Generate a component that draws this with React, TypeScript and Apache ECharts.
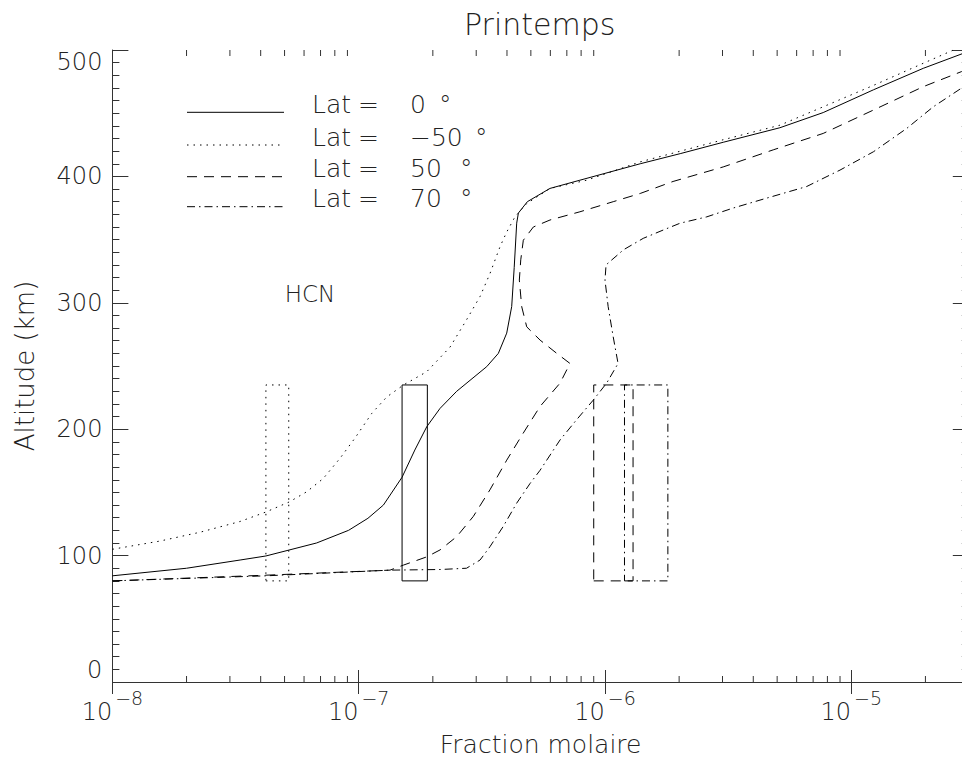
import React, { useEffect, useRef } from "react";
import * as echarts from "echarts";

// Lat = 0 ° (solid)
const lat0X = [1.0e-8, 2.0e-8, 3.3e-8, 4.2e-8, 6.75e-8, 9.1e-8, 1.09e-7, 1.26e-7, 1.5e-7, 1.69e-7, 1.89e-7, 2.14e-7, 2.5e-7, 3.31e-7, 3.69e-7, 3.99e-7, 4.18e-7, 4.28e-7, 4.38e-7, 4.45e-7, 4.84e-7, 5.98e-7, 7.91e-7, 1.39e-6, 2.02e-6, 3.02e-6, 5.13e-6, 7.69e-6, 1.23e-5, 1.96e-5, 3.0e-5];
const lat0Alt = [84, 90, 96.5, 99.7, 110, 120, 129.5, 140, 162, 183.5, 202, 216.5, 230, 249.5, 260, 276, 297, 328, 363, 371, 380, 390.5, 397, 410, 418, 427, 438.5, 450.5, 468.5, 485.5, 499];

// Lat = -50 ° (dotted)
const latM50X = [1e-8, 1.56e-8, 2.27e-8, 3.3e-8, 4.2e-8, 5.23e-8, 6.15e-8, 7.18e-8, 8.4e-8, 9.66e-8, 1.13e-7, 1.3e-7, 1.52e-7, 1.89e-7, 2.35e-7, 2.74e-7, 3.11e-7, 3.41e-7, 3.75e-7, 3.99e-7, 4.31e-7, 4.81e-7, 5.98e-7, 8.43e-7, 1.39e-6, 3.02e-6, 5.13e-6, 1.23e-5, 1.96e-5, 2.6e-5];
const latM50Alt = [105, 111.5, 118.5, 127, 134.5, 142.5, 150.5, 161, 177, 193, 212.5, 225.5, 235, 245.5, 265, 286.5, 305, 323, 344.5, 356, 368, 378.5, 390.5, 397, 411.5, 429, 440.5, 472, 489.5, 500];

// Lat = 50 ° (dashed)
const lat50X = [1e-8, 4.2e-8, 1.34e-7, 1.52e-7, 1.89e-7, 2.14e-7, 2.5e-7, 2.92e-7, 3.41e-7, 3.99e-7, 4.66e-7, 5.45e-7, 6.57e-7, 7.21e-7, 6.37e-7, 5.45e-7, 4.81e-7, 4.59e-7, 4.49e-7, 4.55e-7, 4.66e-7, 5.12e-7, 5.98e-7, 7.91e-7, 1.08e-6, 1.39e-6, 1.89e-6, 3.02e-6, 4.82e-6, 7.69e-6, 1.23e-5, 1.96e-5, 2.81e-5];
const lat50Alt = [80, 84.5, 88.5, 92.5, 99, 104.5, 115, 131, 152, 175.5, 197, 218, 236.5, 252, 260, 270.5, 281, 297, 318, 334, 349.5, 360, 365.5, 372, 380, 386.5, 396, 407.5, 421, 434, 452.5, 471, 483];

// Lat = 70 ° (dash-dot)
const lat70X = [1e-8, 4.2e-8, 1.34e-7, 2.14e-7, 2.74e-7, 3.11e-7, 3.41e-7, 3.86e-7, 4.38e-7, 4.96e-7, 5.45e-7, 6.57e-7, 7.67e-7, 8.96e-7, 1.016e-6, 1.13e-6, 1.08e-6, 1.03e-6, 1.0e-6, 1.01e-6, 1.19e-6, 1.43e-6, 1.72e-6, 2.02e-6, 2.59e-6, 3.32e-6, 4.39e-6, 6.59e-6, 9.0e-6, 1.23e-5, 1.68e-5, 2.15e-5, 2.81e-5];
const lat70Alt = [80, 84, 88.5, 89, 90, 96.5, 107, 123, 141.5, 157, 167.5, 191.5, 207.5, 223, 236.5, 252, 273, 297, 318, 330, 342, 351, 357.5, 363, 368, 375, 382, 392, 405, 419.5, 438, 455, 470];

// Observation boxes (x range) and their altitude range
const boxAlt = [80, 235];
const boxLat0 = [1.5e-7, 1.9e-7];
const boxLatM50 = [4.2e-8, 5.2e-8];
const boxLat50 = [9.0e-7, 1.3e-6];
const boxLat70 = [1.2e-6, 1.8e-6];

const legendValues = ["0", "\u221250", "50", "70"];
const yTicks = [0, 500, 100];
const xRange = [1e-8, 3e-5];
const xMinorTicks = [
  2e-8, 3e-8, 4e-8, 5e-8, 6e-8, 7e-8, 8e-8, 9e-8,
  2e-7, 3e-7, 4e-7, 5e-7, 6e-7, 7e-7, 8e-7, 9e-7,
  2e-6, 3e-6, 4e-6, 5e-6, 6e-6, 7e-6, 8e-6, 9e-6,
  2e-5,
];

const FONT = "'DejaVu Sans', sans-serif";
const FW: any = 200;
const TXT = "#222";
const AX = "#333";

const DASH: Record<string, any> = {
  solid: "solid",
  dotted: [1.5, 5],
  dashed: [10, 7],
  dashdot: [8, 4, 1.5, 4],
};

function zip(xs: number[], ys: number[]) {
  return xs.map((x, i) => [x, ys[i]]);
}
function box(xr: number[]) {
  return [
    [xr[0], boxAlt[0]],
    [xr[1], boxAlt[0]],
    [xr[1], boxAlt[1]],
    [xr[0], boxAlt[1]],
    [xr[0], boxAlt[0]],
  ];
}

function lineSeries(name: string, data: number[][], dash: any) {
  return {
    name,
    type: "line",
    data,
    symbol: "none",
    smooth: false,
    lineStyle: { color: "#000", width: 1, type: dash },
    emphasis: { disabled: true },
    z: 3,
  };
}

export default function App() {
  const ref = useRef<HTMLDivElement>(null);
  useEffect(() => {
    if (!ref.current) return;
    const chart = echarts.init(ref.current, null, { renderer: "svg" });

    const legendRowsY = [112.3, 145, 176.7, 206.7];
    const legendDash = [DASH.solid, DASH.dotted, DASH.dashed, DASH.dashdot];
    const degX = [439, 475, 460, 460];
    const graphic: any[] = [];
    legendRowsY.forEach((yb, i) => {
      graphic.push({
        type: "line",
        shape: { x1: 187, y1: yb, x2: 284, y2: yb },
        style: { stroke: "#000", lineWidth: 1, lineDash: legendDash[i] === "solid" ? null : legendDash[i] },
      });
      const ty = yb - 8;
      const st = { fontSize: 25, fontFamily: FONT, fontWeight: FW, fill: TXT, verticalAlign: "middle", align: "left" };
      graphic.push({ type: "text", x: 312, y: ty, style: { ...st, text: "Lat" } });
      graphic.push({ type: "text", x: 358, y: ty, style: { ...st, text: "=" } });
      graphic.push({ type: "text", x: 410, y: ty, style: { ...st, text: legendValues[i] } });
      graphic.push({ type: "text", x: degX[i], y: ty, style: { ...st, text: "\u00b0" } });
    });
    graphic.push({
      type: "text",
      x: 310,
      y: 294,
      style: { text: "HCN", fontSize: 23, fontFamily: FONT, fontWeight: FW, fill: TXT, align: "center", verticalAlign: "middle" },
    });

    const xAxisCommon = {
      type: "log",
      logBase: 10,
      min: xRange[0],
      max: xRange[1],
      splitLine: { show: false },
      axisLine: { show: true, lineStyle: { color: AX, width: 1 } },
      axisTick: { show: true, inside: true, length: 12, lineStyle: { color: AX } },
    };
    const yAxisCommon = {
      type: "value",
      min: yTicks[0],
      max: yTicks[1],
      interval: yTicks[2],
      splitLine: { show: false },
      axisLine: { show: true, lineStyle: { color: AX, width: 1 } },
      axisTick: { show: true, inside: true, length: 16, lineStyle: { color: AX } },
      minorTick: { show: true, splitNumber: 10, length: 7, lineStyle: { color: AX } },
    };

    const option: any = {
      animation: false,
      backgroundColor: "#fff",
      title: {
        text: "Printemps",
        left: 459,
        top: 4,
        textStyle: { fontSize: 30, fontWeight: FW, fontFamily: FONT, color: TXT },
      },
      grid: { left: 112.4, right: -6.8, top: 50, bottom: 78, containLabel: false, outerBoundsMode: "none" },
      xAxis: [
        {
          ...xAxisCommon,
          position: "bottom",
          name: "Fraction molaire",
          nameLocation: "middle",
          nameGap: 50,
          nameTextStyle: { fontSize: 25, fontFamily: FONT, fontWeight: FW, color: TXT },
          axisLabel: {
            show: true,
            margin: 6,
            showMaxLabel: false,
            formatter: (v: number) => {
              const e = Math.log10(v);
              const r = Math.round(e);
              if (Math.abs(e - r) > 1e-6) return "";
              return `{b|10}{e|${r < 0 ? "\u2212" : ""}${Math.abs(r)}}`;
            },
            rich: {
              b: { fontSize: 24, lineHeight: 36, fontFamily: FONT, fontWeight: FW, color: TXT, verticalAlign: "bottom" },
              e: { fontSize: 19, lineHeight: 19, fontFamily: FONT, fontWeight: FW, color: TXT, verticalAlign: "top", padding: [0, 0, 0, 3] },
            },
          },
        },
        {
          ...xAxisCommon,
          position: "top",
          axisLabel: { show: false },
        },
      ],
      yAxis: [
        {
          ...yAxisCommon,
          position: "left",
          name: "Altitude (km)",
          nameLocation: "middle",
          nameGap: 74,
          nameTextStyle: { fontSize: 26, fontFamily: FONT, fontWeight: FW, color: TXT },
          axisLabel: {
            show: true,
            margin: 10,
            fontSize: 24,
            fontFamily: FONT,
            fontWeight: FW,
            color: TXT,
            verticalAlignMinLabel: "bottom",
            verticalAlignMaxLabel: "top",
          },
        },
        {
          ...yAxisCommon,
          position: "right",
          axisLabel: { show: false },
        },
      ],
      graphic,
      series: [
        lineSeries("Lat = 0 °", zip(lat0X, lat0Alt), DASH.solid),
        lineSeries("Lat = -50 °", zip(latM50X, latM50Alt), DASH.dotted),
        lineSeries("Lat = 50 °", zip(lat50X, lat50Alt), DASH.dashed),
        lineSeries("Lat = 70 °", zip(lat70X, lat70Alt), DASH.dashdot),
        lineSeries("box 0", box(boxLat0), DASH.solid),
        lineSeries("box -50", box(boxLatM50), DASH.dotted),
        lineSeries("box 50", box(boxLat50), DASH.dashed),
        lineSeries("box 70", box(boxLat70), DASH.dashdot),
        {
          type: "custom",
          name: "x minor ticks",
          silent: true,
          clip: false,
          data: xMinorTicks.map((v) => [v, yTicks[0]]),
          renderItem: (params: any, api: any) => {
            const v = api.value(0);
            const b = api.coord([v, yTicks[0]]);
            const t = api.coord([v, yTicks[1]]);
            const style = { stroke: AX, lineWidth: 1 };
            return {
              type: "group",
              children: [
                { type: "line", shape: { x1: b[0], y1: b[1], x2: b[0], y2: b[1] - 6 }, style },
                { type: "line", shape: { x1: t[0], y1: t[1], x2: t[0], y2: t[1] + 6 }, style },
              ],
            };
          },
        },
      ],
    };
    chart.setOption(option);
    return () => chart.dispose();
  }, []);
  return (
    <div
      ref={ref}
      style={{ position: "fixed", left: 0, top: 0, width: 962, height: 760, background: "#fff" }}
    />
  );
}
